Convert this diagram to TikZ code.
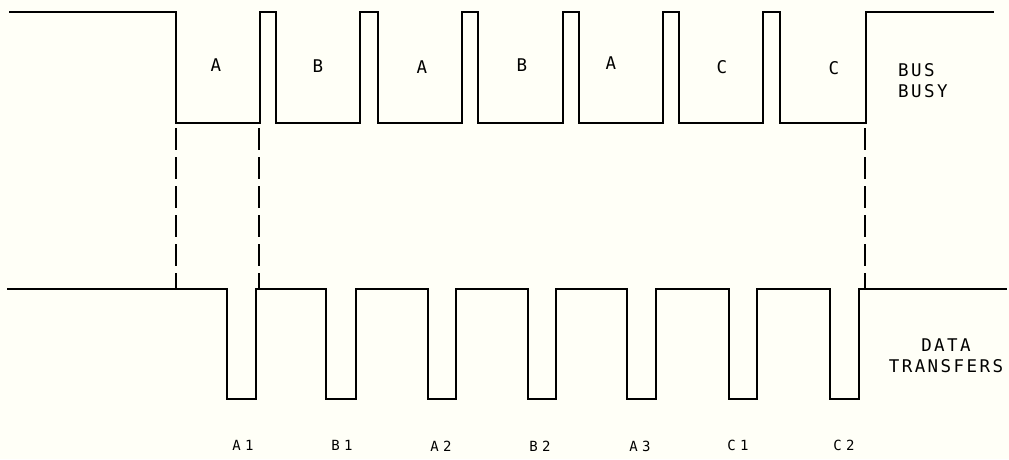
\documentclass[tikz,border=0pt]{standalone}
\usepackage{fontspec}
\newfontfamily\plotfont{DejaVu Sans Mono}[LetterSpace=14]
\newfontfamily\plotwide{DejaVu Sans Mono}[LetterSpace=30]
\begin{document}
\begin{tikzpicture}[x=1pt,y=-1pt,
  wave/.style={line width=1.6pt,line join=miter,black},
  guide/.style={line width=1.6pt,black,dash pattern=on 22pt off 7pt,dash phase=-4pt},
  seglabel/.style={font=\plotfont\fontsize{17.5}{17.5}\selectfont,inner sep=0pt},
  xferlabel/.style={font=\plotwide\fontsize{14}{14}\selectfont,inner sep=0pt},
  sidelabel/.style={font=\plotfont\fontsize{17.5}{21}\selectfont,inner sep=0pt,align=left}]
% canvas
\fill[white!97!yellow] (0,0) rectangle (1009,459);
\useasboundingbox (0,0) rectangle (1009,459);

% BUS BUSY waveform
\draw[wave] (9,12) -- (176,12) -- (176,123) -- (260,123) -- (260,12) -- (276,12) -- (276,123)
  -- (360,123) -- (360,12) -- (378,12) -- (378,123)
  -- (462,123) -- (462,12) -- (478,12) -- (478,123)
  -- (563,123) -- (563,12) -- (579,12) -- (579,123)
  -- (663,123) -- (663,12) -- (679,12) -- (679,123)
  -- (763,123) -- (763,12) -- (780,12) -- (780,123)
  -- (866,123) -- (866,12) -- (994,12);

% DATA TRANSFERS waveform
\draw[wave] (7,289) -- (227,289) -- (227,399) -- (256,399) -- (256,289)
  -- (326,289) -- (326,399) -- (356,399) -- (356,289)
  -- (428,289) -- (428,399) -- (456,399) -- (456,289)
  -- (528,289) -- (528,399) -- (556,399) -- (556,289)
  -- (627,289) -- (627,399) -- (656,399) -- (656,289)
  -- (729,289) -- (729,399) -- (757,399) -- (757,289)
  -- (830,289) -- (830,399) -- (859,399) -- (859,289)
  -- (1007,289);

% timing guides between the two traces
\coordinate (g1t) at (176,124); \coordinate (g1b) at (176,288);
\coordinate (g2t) at (259,124); \coordinate (g2b) at (259,288);
\coordinate (g3t) at (865,124); \coordinate (g3b) at (865,288);
\draw[guide] (g1t) -- (g1b);
\draw[guide] (g2t) -- (g2b);
\draw[guide] (g3t) -- (g3b);

% bus ownership labels
\node[seglabel] (s1) at (216,65) {A};
\node[seglabel] (s2) at (318,66) {B};
\node[seglabel] (s3) at (422,67) {A};
\node[seglabel] (s4) at (522,65) {B};
\node[seglabel] (s5) at (611,63) {A};
\node[seglabel] (s6) at (722,67) {C};
\node[seglabel] (s7) at (834,68) {C};

% transfer labels
\node[xferlabel] (t1) at (243,445) {A1};
\node[xferlabel] (t2) at (342,445) {B1};
\node[xferlabel] (t3) at (441,446) {A2};
\node[xferlabel] (t4) at (540,446) {B2};
\node[xferlabel] (t5) at (640,446) {A3};
\node[xferlabel] (t6) at (738,445) {C1};
\node[xferlabel] (t7) at (844,445) {C2};

% trace names
\node[sidelabel,anchor=west] (busy) at (898,81) {BUS\\BUSY};
\node[sidelabel,align=center] (xfer) at (946,356) {DATA\\TRANSFERS};
\end{tikzpicture}
\end{document}
